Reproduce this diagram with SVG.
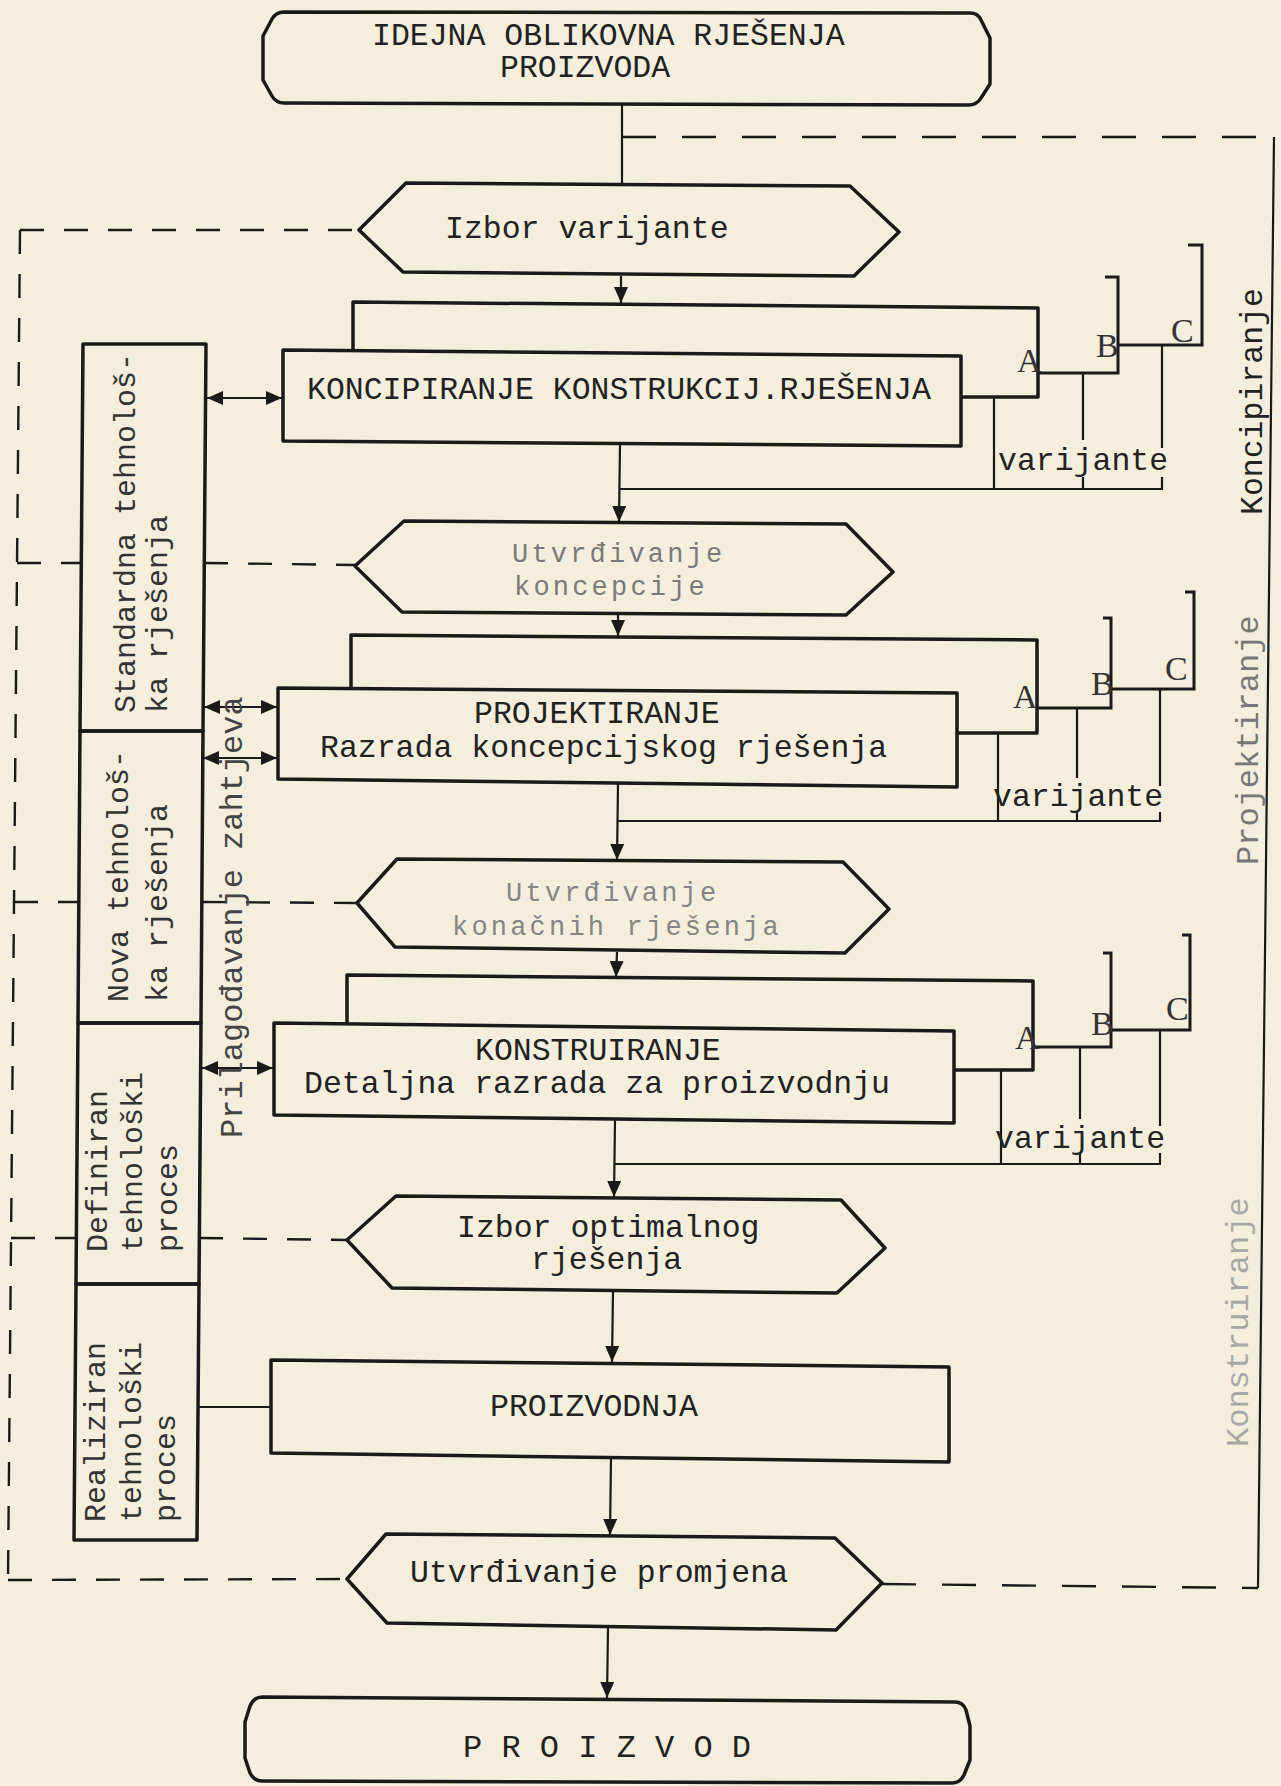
<svg xmlns="http://www.w3.org/2000/svg" width="1281" height="1786" viewBox="0 0 1281 1786">
<style>
.bg{fill:#f3efdc}
.box{fill:none;stroke:#1a1a1a;stroke-width:3.5;stroke-linejoin:round}
.thin{fill:none;stroke:#1a1a1a;stroke-width:2.2}
.brk{fill:none;stroke:#1a1a1a;stroke-width:3}
.dl{fill:none;stroke:#1a1a1a;stroke-width:2.4;stroke-dasharray:24 20}
.dr{fill:none;stroke:#1a1a1a;stroke-width:2.4;stroke-dasharray:34 26}
.t{font-family:"Liberation Mono","DejaVu Sans Mono",monospace;font-size:31.5px;fill:#222}
.h{font-family:"Liberation Mono","DejaVu Sans Mono",monospace;font-size:32px}
.h2{font-family:"Liberation Mono","DejaVu Sans Mono",monospace;font-size:27px;letter-spacing:3.2px}
.c{font-family:"Liberation Mono","DejaVu Sans Mono",monospace;font-size:30px;fill:#333}
.abc{font-family:"Liberation Serif","DejaVu Serif",serif;font-size:34px;fill:#333}
</style>
<defs>
<marker id="ah" markerUnits="userSpaceOnUse" markerWidth="16" markerHeight="14" refX="16" refY="7" orient="auto">
<path d="M0,0 L16,7 L0,14 Z" fill="#1a1a1a"/>
</marker>
<marker id="ah2" markerUnits="userSpaceOnUse" markerWidth="16" markerHeight="14" refX="16" refY="7" orient="auto-start-reverse">
<path d="M0,0 L16,7 L0,14 Z" fill="#1a1a1a"/>
</marker>
</defs>
<rect class="bg" x="0" y="0" width="1281" height="1786"/>

<g id="connectors">
<line class="thin" x1="622" y1="105" x2="622" y2="183"/>
<line class="thin" x1="621" y1="276" x2="621" y2="303" marker-end="url(#ah)"/>
<line class="thin" x1="620" y1="444" x2="619" y2="522" marker-end="url(#ah)"/>
<line class="thin" x1="618" y1="614" x2="618" y2="636" marker-end="url(#ah)"/>
<line class="thin" x1="618" y1="784" x2="617" y2="860" marker-end="url(#ah)"/>
<line class="thin" x1="617" y1="952" x2="616" y2="977" marker-end="url(#ah)"/>
<line class="thin" x1="615" y1="1120" x2="614" y2="1197" marker-end="url(#ah)"/>
<line class="thin" x1="613" y1="1291" x2="612" y2="1362" marker-end="url(#ah)"/>
<line class="thin" x1="611" y1="1458" x2="610" y2="1535" marker-end="url(#ah)"/>
<line class="thin" x1="608" y1="1628" x2="607" y2="1698" marker-end="url(#ah)"/>

<line class="thin" x1="207" y1="398" x2="282" y2="398" marker-start="url(#ah2)" marker-end="url(#ah2)"/>
<line class="thin" x1="204" y1="707" x2="277" y2="707" marker-start="url(#ah2)" marker-end="url(#ah2)"/>
<line class="thin" x1="203" y1="758" x2="277" y2="758" marker-start="url(#ah2)" marker-end="url(#ah2)"/>
<line class="thin" x1="202" y1="1068" x2="273" y2="1068" marker-start="url(#ah2)" marker-end="url(#ah2)"/>
<line class="thin" x1="198" y1="1407" x2="271" y2="1407"/>

<polyline class="brk" points="1038,373 1118,373 1118,277 1105,277"/>
<polyline class="brk" points="1118,345 1202,345 1202,245 1188,245"/>
<line class="thin" x1="994" y1="397" x2="994" y2="489"/>
<line class="thin" x1="1083" y1="373" x2="1083" y2="440"/>
<line class="thin" x1="1083" y1="477" x2="1083" y2="489"/>
<line class="thin" x1="1162" y1="345" x2="1162" y2="448"/>
<line class="thin" x1="1162" y1="477" x2="1162" y2="489"/>
<line class="thin" x1="620" y1="489" x2="1163" y2="489"/>

<polyline class="brk" points="1037,708 1111,708 1111,618 1103,618"/>
<polyline class="brk" points="1111,689 1194,689 1194,592 1185,592"/>
<line class="thin" x1="998" y1="733" x2="998" y2="821"/>
<line class="thin" x1="1077" y1="708" x2="1077" y2="778"/>
<line class="thin" x1="1077" y1="812" x2="1077" y2="821"/>
<line class="thin" x1="1160" y1="689" x2="1160" y2="786"/>
<line class="thin" x1="1160" y1="812" x2="1160" y2="821"/>
<line class="thin" x1="618" y1="821" x2="1161" y2="821"/>

<polyline class="brk" points="1033,1047 1111,1047 1111,953 1103,953"/>
<polyline class="brk" points="1111,1030 1190,1030 1190,935 1182,935"/>
<line class="thin" x1="1001" y1="1070" x2="1001" y2="1164"/>
<line class="thin" x1="1080" y1="1047" x2="1080" y2="1119"/>
<line class="thin" x1="1080" y1="1153" x2="1080" y2="1164"/>
<line class="thin" x1="1160" y1="1030" x2="1160" y2="1126"/>
<line class="thin" x1="1160" y1="1153" x2="1160" y2="1164"/>
<line class="thin" x1="614" y1="1164" x2="1161" y2="1164"/>

<line class="dr" x1="622" y1="137" x2="1274" y2="137"/>
<line class="thin" x1="1274" y1="137" x2="1258" y2="1588"/>
<line class="dr" x1="882" y1="1584" x2="1258" y2="1588"/>

<line class="dl" x1="20" y1="230" x2="8" y2="1580"/>
<line class="dl" x1="20" y1="230" x2="359" y2="230"/>
<line class="dl" x1="17" y1="563" x2="81" y2="563"/>
<line class="dl" x1="204" y1="563" x2="355" y2="565"/>
<line class="dl" x1="14" y1="902" x2="79" y2="902"/>
<line class="dl" x1="202" y1="902" x2="357" y2="903"/>
<line class="dl" x1="11" y1="1238" x2="76" y2="1238"/>
<line class="dl" x1="199" y1="1238" x2="347" y2="1240"/>
<line class="dl" x1="8" y1="1580" x2="347" y2="1579"/>
</g>

<g id="n-idejna">
<path class="box" d="M284,12 L970,13 Q978,13 981,20 L990,38 L990,84 L981,98 Q977,105 968,105 L284,103 Q276,103 272,96 L263,80 L263,36 L272,19 Q276,12 284,12 Z"/>
<text class="t" x="372" y="45">IDEJNA OBLIKOVNA RJEŠENJA</text>
<text class="t" x="500" y="77">PROIZVODA</text>
</g>

<g id="n-izbor-varijante">
<polygon class="box" points="359,230 406,183 850,186 899,232 854,276 403,272"/>
<text class="t" x="445" y="238" fill="#333">Izbor varijante</text>
</g>

<g id="n-koncipiranje">
<polyline class="box" points="353,350 353,302 1038,308 1038,397 961,397"/>
<polygon class="box" points="283,350 961,356 961,446 283,441"/>
<text class="t" x="307" y="399">KONCIPIRANJE KONSTRUKCIJ.RJEŠENJA</text>
<text class="abc" x="1017" y="372">A</text>
<text class="abc" x="1096" y="357">B</text>
<text class="abc" x="1171" y="342">C</text>
<text class="t" x="998" y="470" fill="#333">varijante</text>
</g>

<g id="n-utvrdivanje-koncepcije">
<polygon class="box" points="355,566 404,521 846,524 893,572 846,615 402,612"/>
<text class="h2" x="512" y="562" fill="#7a7a7a">Utvrđivanje</text>
<text class="h2" x="514" y="595" fill="#7a7a7a">koncepcije</text>
</g>

<g id="n-projektiranje">
<polyline class="box" points="351,688 351,635 1037,640 1037,733 957,733"/>
<polygon class="box" points="278,688 957,693 957,787 278,779"/>
<text class="t" x="474" y="723">PROJEKTIRANJE</text>
<text class="t" x="320" y="757">Razrada koncepcijskog rješenja</text>
<text class="abc" x="1013" y="708">A</text>
<text class="abc" x="1091" y="695">B</text>
<text class="abc" x="1165" y="680">C</text>
<text class="t" x="993" y="806" fill="#333">varijante</text>
</g>

<g id="n-utvrdivanje-konacnih">
<polygon class="box" points="357,903 397,859 843,862 889,909 845,953 395,947"/>
<text class="h2" x="506" y="901" fill="#858585">Utvrđivanje</text>
<text class="h2" x="452" y="935" fill="#858585">konačnih rješenja</text>
</g>

<g id="n-konstruiranje">
<polyline class="box" points="347,1023 347,975 1033,981 1033,1070 954,1070"/>
<polygon class="box" points="274,1023 954,1031 954,1123 274,1115"/>
<text class="t" x="475" y="1060">KONSTRUIRANJE</text>
<text class="t" x="304" y="1093">Detaljna razrada za proizvodnju</text>
<text class="abc" x="1015" y="1049">A</text>
<text class="abc" x="1091" y="1035">B</text>
<text class="abc" x="1166" y="1020">C</text>
<text class="t" x="995" y="1148" fill="#333">varijante</text>
</g>

<g id="n-izbor-optimalnog">
<polygon class="box" points="347,1240 396,1196 841,1200 885,1248 837,1293 392,1288"/>
<text class="t" x="457" y="1237" fill="#444">Izbor optimalnog</text>
<text class="t" x="531" y="1269" fill="#444">rješenja</text>
</g>

<g id="n-proizvodnja">
<polygon class="box" points="271,1360 949,1367 949,1462 271,1453"/>
<text class="t" x="490" y="1416">PROIZVODNJA</text>
</g>

<g id="n-utvrdivanje-promjena">
<polygon class="box" points="347,1579 386,1534 835,1538 882,1583 836,1630 387,1623"/>
<text class="t" x="410" y="1582" fill="#555">Utvrđivanje promjena</text>
</g>

<g id="n-proizvod">
<path class="box" d="M262,1697 L955,1702 Q963,1702 966,1710 L970,1726 L970,1760 L964,1775 Q960,1783 952,1783 L262,1781 Q254,1781 250,1773 L245,1758 L245,1722 L250,1706 Q254,1697 262,1697 Z"/>
<text class="h" x="463" y="1757" fill="#222">P R O I Z V O D</text>
</g>

<g id="n-standardna">
<polygon class="box" points="83,344 206,344 203,731 80,731"/>
<text class="c" transform="translate(135,713) rotate(-90)">Standardna tehnološ-</text>
<text class="c" transform="translate(167,713) rotate(-90)">ka rješenja</text>
</g>

<g id="n-nova">
<polygon class="box" points="80,731 203,731 201,1023 78,1023"/>
<text class="c" transform="translate(128,1002) rotate(-90)">Nova tehnološ-</text>
<text class="c" transform="translate(167,1002) rotate(-90)">ka rješenja</text>
</g>

<g id="n-definiran">
<polygon class="box" points="78,1023 201,1023 199,1284 76,1284"/>
<text class="c" transform="translate(107,1252) rotate(-90)">Definiran</text>
<text class="c" transform="translate(142,1252) rotate(-90)">tehnološki</text>
<text class="c" transform="translate(177,1252) rotate(-90)">proces</text>
</g>

<g id="n-realiziran">
<polygon class="box" points="76,1284 199,1284 197,1540 74,1540"/>
<text class="c" transform="translate(105,1522) rotate(-90)">Realiziran</text>
<text class="c" transform="translate(141,1522) rotate(-90)">tehnološki</text>
<text class="c" transform="translate(175,1522) rotate(-90)">proces</text>
</g>

<g id="labels">
<text class="h" fill="#444" transform="translate(242,1138) rotate(-90)">Prilagođavanje zahtjeva</text>
<text class="t" fill="#555" transform="translate(1262,515) rotate(-90)">Koncipiranje</text>
<text class="h" fill="#777" transform="translate(1258,865) rotate(-90)">Projektiranje</text>
<text class="h" fill="#a8a8a8" transform="translate(1248,1447) rotate(-90)">Konstruiranje</text>
</g>
</svg>
